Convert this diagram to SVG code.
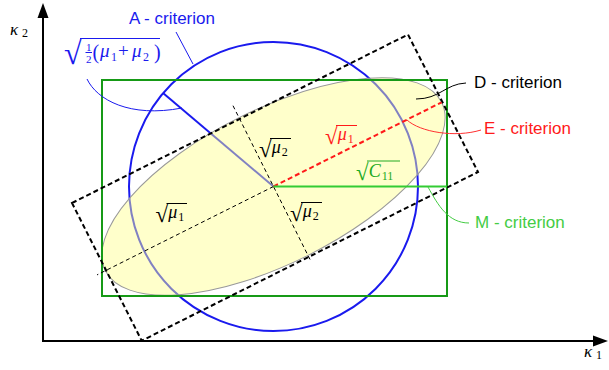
<svg xmlns="http://www.w3.org/2000/svg" width="609" height="370" viewBox="0 0 609 370">
<style>
.lbl{font-family:"Liberation Sans",Arial,sans-serif;font-size:17px}
.m{font-family:"Liberation Serif","Times New Roman",serif;font-style:italic}
.u{font-family:"Liberation Serif","Times New Roman",serif;font-style:normal}
.ax{stroke:#000;stroke-width:2;fill:none}
.lead{fill:none;stroke-width:1}
.thin{stroke:#000;stroke-width:1;stroke-dasharray:4,3;fill:none}
.bar{stroke-width:1}
.rad{font-size:23px}
.mu{font-size:18px}
.sub{font-size:12px;font-style:normal}
</style>
<rect width="609" height="370" fill="#fff"/>
<g id="axes">
<line x1="43" y1="341" x2="43" y2="16" class="ax"/>
<polygon points="43,3 37.5,18 48.5,18" fill="#000"/>
<line x1="42" y1="341" x2="594" y2="341" class="ax"/>
<polygon points="608,341 593,335.5 593,346.5" fill="#000"/>
<text class="m" x="10" y="35" font-size="17">κ<tspan class="sub" x="22" y="37">2</tspan></text>
<text class="m" x="584" y="357" font-size="17">κ<tspan class="sub" x="596" y="359">1</tspan></text>
</g>
<g id="a-criterion">
<circle cx="273.5" cy="186.5" r="144.5" fill="none" stroke="#1a1aee" stroke-width="2"/>
<line x1="273.5" y1="186.5" x2="163" y2="93" stroke="#1a1aee" stroke-width="2"/>
</g>
<g id="ellipse">
<ellipse cx="273.5" cy="186.5" rx="188" ry="77" transform="rotate(-26.6 273.5 186.5)" fill="#ffff8c" fill-opacity="0.45" stroke="#999" stroke-width="1"/>
</g>
<g id="m-criterion">
<rect x="102" y="80" width="345" height="216" fill="none" stroke="#169a16" stroke-width="2"/>
</g>
<g id="d-criterion">
<polygon points="72,203 408,34.5 478,172 141.7,340.7" fill="none" stroke="#000" stroke-width="2" stroke-dasharray="5,3"/>
</g>
<g id="axes-of-ellipse">
<line x1="233" y1="105.7" x2="310.2" y2="259.8" class="thin"/>
<line x1="273.5" y1="186.5" x2="97" y2="274.9" class="thin"/>
<line x1="273.5" y1="186.5" x2="441.6" y2="102.3" stroke="#ff1a1a" stroke-width="2" stroke-dasharray="5,3"/>
<line x1="273.5" y1="186.5" x2="447" y2="186.5" stroke="#33cc33" stroke-width="2"/>
</g>
<g id="connectors">
<line x1="176" y1="32" x2="193" y2="64" stroke="#1a1aee" class="lead"/>
<path d="M87,79 C97,100 130,118 182,108" stroke="#1a1aee" class="lead"/>
<path d="M416,99 C440,99 445,84 466,83" stroke="#000" class="lead"/>
<path d="M407,120 C420,132 455,138 481,130" stroke="#ff3030" class="lead"/>
<path d="M428,187 C438,205 448,223 469,223" stroke="#44cc44" class="lead"/>
</g>
<g id="criterion-labels">
<text class="lbl" x="129" y="24" fill="#1a1aee">A - criterion</text>
<text class="lbl" x="474" y="88" fill="#000">D - criterion</text>
<text class="lbl" x="484" y="134" fill="#ff1a1a">E - criterion</text>
<text class="lbl" x="475" y="228" fill="#44cc44">M - criterion</text>
</g>
<g id="radical-a" fill="#1a1aee">
<line x1="80" y1="38.5" x2="160" y2="38.5" stroke="#1a1aee" class="bar"/>
<line x1="85.5" y1="52.5" x2="92" y2="52.5" stroke="#1a1aee" class="bar"/>
<text class="u" x="64" y="64" font-size="32">√<tspan font-size="11" x="86" y="50.5">1</tspan><tspan font-size="11" x="86" y="63">2</tspan><tspan font-size="20" x="92.5" y="59">(</tspan><tspan class="m" font-size="19" x="100" y="57">μ</tspan><tspan font-size="12" x="111" y="61">1</tspan><tspan font-size="19" x="118" y="57">+</tspan><tspan class="m" font-size="19" x="132" y="57">μ</tspan><tspan font-size="12" x="143" y="61">2</tspan><tspan font-size="20" x="154" y="59">)</tspan></text>
</g>
<g id="radical-mu2-upper" fill="#000">
<line x1="270" y1="138.5" x2="291" y2="138.5" stroke="#000" class="bar"/>
<text class="u rad" x="259" y="157">√<tspan class="m mu" dy="-4">μ</tspan><tspan class="sub" dx="1" dy="3">2</tspan></text>
</g>
<g id="radical-mu1-red" fill="#ff1a1a">
<line x1="336" y1="125.5" x2="357" y2="125.5" stroke="#ff1a1a" class="bar"/>
<text class="u rad" x="325" y="144">√<tspan class="m mu" dy="-4">μ</tspan><tspan class="sub" dx="1" dy="3">1</tspan></text>
</g>
<g id="radical-c11" fill="#22aa22">
<line x1="367" y1="161" x2="400" y2="161" stroke="#22aa22" class="bar"/>
<text class="u rad" x="356" y="180">√<tspan class="m mu" dy="-3">C</tspan><tspan class="sub" dx="1" dy="3">11</tspan></text>
</g>
<g id="radical-mu2-lower" fill="#000">
<line x1="301" y1="202.5" x2="322" y2="202.5" stroke="#000" class="bar"/>
<text class="u rad" x="290" y="221">√<tspan class="m mu" dy="-4">μ</tspan><tspan class="sub" dx="1" dy="3">2</tspan></text>
</g>
<g id="radical-mu1-lower" fill="#000">
<line x1="166.5" y1="203.5" x2="187" y2="203.5" stroke="#000" class="bar"/>
<text class="u rad" x="155.5" y="222">√<tspan class="m mu" dy="-4">μ</tspan><tspan class="sub" dx="1" dy="3">1</tspan></text>
</g>
</svg>
